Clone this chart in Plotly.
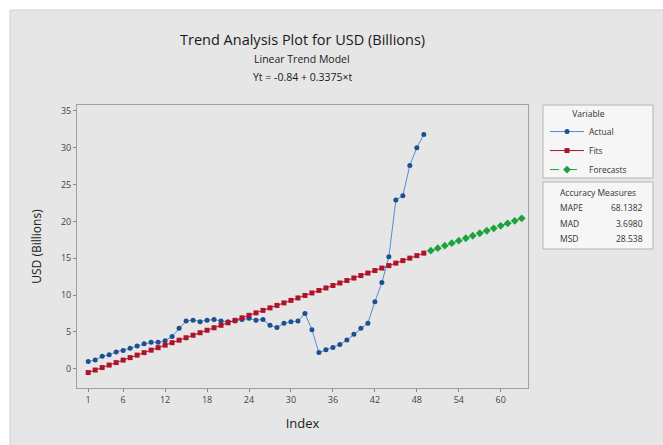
import plotly.graph_objects as go

# Observed series (USD, billions) by index
actual_index = list(range(1, 50))
actual_usd = [
    1.0, 1.2, 1.7, 1.9, 2.3, 2.5, 2.8, 3.1, 3.4, 3.6,
    3.6, 3.8, 4.4, 5.5, 6.5, 6.6, 6.4, 6.6, 6.7, 6.5,
    6.4, 6.5, 6.7, 6.85, 6.6, 6.7, 5.9, 5.6, 6.2, 6.4,
    6.5, 7.5, 5.3, 2.2, 2.6, 2.9, 3.3, 3.9, 4.7, 5.5,
    6.2, 9.1, 11.7, 15.2, 22.9, 23.5, 27.6, 30.0, 31.8,
]

# Linear trend model Yt = b0 + b1*t
b0 = -0.84
b1 = 0.3375
forecast_index = list(range(50, 64))

fits_usd = [b0 + b1 * t for t in actual_index]
forecast_usd = [b0 + b1 * t for t in forecast_index]

x_tickvals = [1, 6, 12, 18, 24, 30, 36, 42, 48, 54, 60]
y_tickvals = [0, 5, 10, 15, 20, 25, 30, 35]

accuracy_names = ["MAPE", "MAD", "MSD"]
accuracy_values = ["68.1382", "3.6980", "28.538"]

# Page geometry (pixels)
W, H = 663, 445
ML, MR, MT, MB = 77, 135, 105, 57
PW, PH = W - ML - MR, H - MT - MB


def px(x):
    return (x - ML) / PW


def py(y):
    return 1 - (y - MT) / PH


FONT = "Open Sans"
BLUE_M = "#1d4f91"
BLUE_L = "#4f8fd0"
RED = "#b0122a"
GREEN = "#1aa33a"

fig = go.Figure()
fig.add_trace(go.Scatter(
    x=actual_index, y=actual_usd, name="Actual", mode="lines+markers",
    line=dict(color=BLUE_L, width=1),
    marker=dict(color=BLUE_M, size=5, symbol="circle"),
))
fig.add_trace(go.Scatter(
    x=actual_index, y=fits_usd, name="Fits", mode="lines+markers",
    line=dict(color=RED, width=1),
    marker=dict(color=RED, size=5, symbol="square"),
))
fig.add_trace(go.Scatter(
    x=forecast_index, y=forecast_usd, name="Forecasts", mode="lines+markers",
    line=dict(color=GREEN, width=1, dash="dash"),
    marker=dict(color=GREEN, size=6, symbol="diamond"),
))

BOX1 = (543, 653, 105, 178)
BOX2 = (543, 653, 182, 249)

shapes = [
    # grey graph region
    dict(type="rect", xref="paper", yref="paper", layer="below",
         x0=px(10), x1=px(W + 2), y0=py(10), y1=py(H + 2),
         fillcolor="#e6e6e6", line=dict(color="#d0d0d0", width=1)),
]
for (x0, x1, y0, y1) in (BOX1, BOX2):
    shapes.append(dict(type="rect", xref="paper", yref="paper", layer="below",
                       x0=px(x0), x1=px(x1), y0=py(y0), y1=py(y1),
                       fillcolor="#f6f6f6", line=dict(color="#b4b4b4", width=1)))


def note(text, x, y, size, anchor="center", color="#333"):
    return dict(text=text, x=px(x), y=py(y), xanchor=anchor, yanchor="middle",
                xref="paper", yref="paper", showarrow=False,
                font=dict(family=FONT, size=size, color=color))


annotations = [
    note("Trend Analysis Plot for USD (Billions)", 302, 40, 14.5, color="#1a1a1a"),
    note("Linear Trend Model", 302, 59, 10.5, color="#1a1a1a"),
    note("Yt = -0.84 + 0.3375×t", 302, 77, 10.5, color="#1a1a1a"),
    note("Accuracy Measures", 598, 192, 8.5),
]
for i, (name, val) in enumerate(zip(accuracy_names, accuracy_values)):
    annotations.append(note(name, 558, 208 + 15 * i, 8.5, anchor="left"))
    annotations.append(note(val, 645, 208 + 15 * i, 8.5, anchor="right"))

fig.update_layout(
    width=W, height=H,
    margin=dict(l=ML, r=MR, t=MT, b=MB),
    paper_bgcolor="white",
    plot_bgcolor="white",
    font=dict(family=FONT, color="#333"),
    showlegend=True,
    legend=dict(
        x=px(545), y=py(106), xanchor="left", yanchor="top",
        bgcolor="rgba(0,0,0,0)", borderwidth=0,
        font=dict(family=FONT, size=8.5, color="#333"),
        title=dict(text="Variable", side="top center",
                   font=dict(family=FONT, size=8.5, color="#333")),
        itemwidth=34, tracegroupgap=0,
    ),
    shapes=shapes,
    annotations=annotations,
    xaxis=dict(
        range=[-0.6, 63.9], tickvals=x_tickvals, showgrid=False, zeroline=False,
        showline=True, mirror=True, linecolor="#a0a0a0", linewidth=1,
        ticks="outside", ticklen=3, tickcolor="#888",
        tickfont=dict(family=FONT, size=9, color="#444"),
        title=dict(text="Index", font=dict(family=FONT, size=13, color="#222"), standoff=14),
    ),
    yaxis=dict(
        range=[-2.6, 35.8], tickvals=y_tickvals, showgrid=False, zeroline=False,
        showline=True, mirror=True, linecolor="#a0a0a0", linewidth=1,
        ticks="outside", ticklen=3, tickcolor="#888",
        tickfont=dict(family=FONT, size=9, color="#444"),
        title=dict(text="USD (Billions)", font=dict(family=FONT, size=12, color="#222"), standoff=16),
    ),
)

fig.write_html("out.html")
